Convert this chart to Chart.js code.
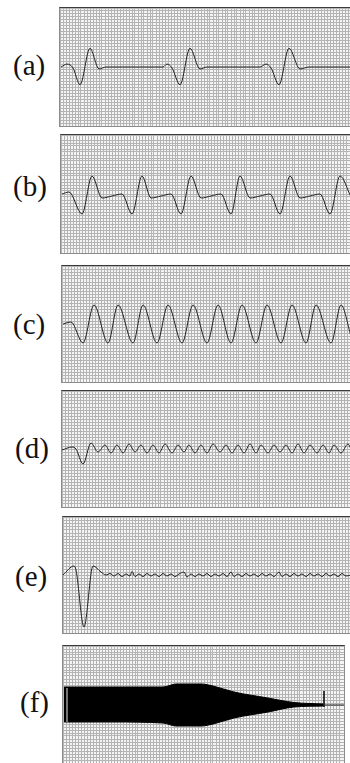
<!DOCTYPE html>
<html>
<head>
<meta charset="utf-8">
<script src="https://cdn.jsdelivr.net/npm/chart.js@4"></script>
<style>
  body { margin: 0; background: #fff; width: 350px; height: 763px; overflow: hidden; position: relative; }
  .panel { position: absolute; border: 1px solid #8c8c8c; border-top-color: #3a3a3a; background: #f4f4f4; }
  .panel canvas { display: block; }
  .label { position: absolute; font-family: "Liberation Serif", "DejaVu Serif", serif; font-size: 29px; line-height: 29px; color: #111; }
</style>
</head>
<body>

<div class="label" style="left:13px; top:51px;">(a)</div>
<div class="label" style="left:13px; top:172px;">(b)</div>
<div class="label" style="left:13px; top:310px;">(c)</div>
<div class="label" style="left:15px; top:434px;">(d)</div>
<div class="label" style="left:15px; top:562px;">(e)</div>
<div class="label" style="left:20px; top:688px;">(f)</div>

<div class="panel" style="left:59px; top:7px;"><canvas id="chartA"></canvas></div>
<div class="panel" style="left:60px; top:134px;"><canvas id="chartB"></canvas></div>
<div class="panel" style="left:61px; top:265px;"><canvas id="chartC"></canvas></div>
<div class="panel" style="left:61px; top:390px;"><canvas id="chartD"></canvas></div>
<div class="panel" style="left:62px; top:516px;"><canvas id="chartE"></canvas></div>
<div class="panel" style="left:62px; top:645px;"><canvas id="chartF"></canvas></div>

<script>
// (a) isolated pulses
const aTime  = [1, 7, 13, 20, 30, 39, 46, 103, 107, 112, 120, 130, 140, 147, 200, 206, 211, 219, 229, 240, 249, 291];
const aValue = [0, 3, -1, -18, 19, -2, 0, 0, 3, -1, -18, 19, -2, 0, 0, 3, -1, -18, 19, -2, 0, 0];

// (b) pulse train
const bTime  = [1, 8, 21, 31, 41, 51, 61, 71, 81, 90, 100, 110, 120, 130, 140, 150, 160, 170, 179, 189, 199, 209, 219, 229, 239, 249, 259, 269, 279, 290];
const bValue = [0, 2, -20, 18, -4, -2, 0, -20, 18, -4, -2, 0, -20, 18, -4, -2, 0, -20, 18, -4, -2, 0, -20, 18, -4, -2, 0, -20, 18, -3];

// (c) steady oscillation
const cTime  = [1, 9, 21, 32, 46, 56, 71, 81, 95, 106, 120, 131, 145, 156, 169, 180, 194, 205, 219, 230, 244, 254, 269, 279, 289];
const cValue = [0, 2, -19, 19, -19, 19, -19, 19, -19, 19, -19, 19, -19, 19, -19, 19, -19, 19, -19, 19, -19, 19, -19, 19, -12];

// (d) small ripple after one dip
const dTime  = [0, 10, 14, 21, 29, 36, 43, 49, 55, 61, 67, 73, 79, 85, 91, 97, 103, 110, 116, 122,
                127, 133, 139, 145, 151, 158, 164, 170, 176, 182, 188, 194, 199, 206, 212, 218, 224, 230,
                236, 242, 248, 255, 261, 267, 272, 279, 286, 289];
const dValue = [-1, 2, 0, -15, 6, -3, 4, -4, 4, -4, 5, -3, 4, -4, 4, -4, 5, -4, 4, -3,
                4, -4, 4, -4, 5, -3, 4, -4, 4, -4, 5, -4, 4, -4, 4, -3, 4, -4,
                5, -4, 4, -4, 4, -4, 4, -4, 5, 0];

// (e) one deep spike, then noise
const eTime  = [0, 11, 13, 21, 30, 38, 43, 47, 51, 55, 59, 63, 67, 69, 72, 76, 80, 84, 88, 92, 96, 100, 104, 108, 112, 116,
                121, 124, 128, 132, 136, 140, 144, 148, 152, 156, 160, 164, 168, 171, 175, 179, 183, 187, 191, 195, 199, 203,
                207, 211, 216, 219, 223, 227, 231, 235, 239, 243, 247, 251, 255, 259, 263, 267, 271, 275, 279, 283, 288];
const eValue = [0, 9, 5, -52, 9, 3, 0, 1.5, -1, 1.5, -1.5, 1, -1, 3.5, -1.5, 1, -1.5, 1.5, -1, 1, -1.5, 1.5, -1, 1, -1.5, 1,
                3, -2, 1, -1.5, 1, -1, 1.5, -1.5, 1, -1, 1.5, -1.5, 3, -1.5, 1, -1.5, 1.5, -1, 1, -1.5, 1.5, -1,
                1, -1.5, 3, -1.5, 1, -1.5, 1.5, -1, 1, -1.5, 1.5, -1, 1, -1.5, 1.5, -1, 1, -1.5, 1.5, -1, 0];

// (f) envelope of a dense oscillation
const fTime  = [1, 50, 100, 113, 138, 150, 171, 205, 231, 261];
const fUpper = [18, 18, 18, 21, 21, 19, 13, 7, 2.5, 1];
const fLower = [-17, -17, -18, -21, -21, -19, -13, -7, -2, -1];
const fTailTime = [261, 281];
const fTailValue = [0, 0];
const fMarkTime = [261, 261];
const fMarkValue = [14, -2];
const fStripeTime = [4, 4];
const fStripeValue = [17, -17];

function points(xs, ys) {
    return xs.map((x, i) => ({ x: x, y: ys[i] }));
}

function traceSet(xs, ys) {
    return {
        data: points(xs, ys),
        borderColor: '#222',
        borderWidth: 1,
        pointRadius: 0,
        cubicInterpolationMode: 'monotone',
        fill: false
    };
}

function makePanel(id, width, height, yMin, yMax, datasets) {
    const canvas = document.getElementById(id);
    canvas.width = width;
    canvas.height = height;
    const gridOpts = { color: '#b4b4b4', lineWidth: 1, drawTicks: false };
    return new Chart(canvas.getContext('2d'), {
        type: 'line',
        data: { datasets: datasets },
        options: {
            responsive: false,
            animation: false,
            events: [],
            layout: { padding: 0 },
            plugins: { legend: { display: false }, tooltip: { enabled: false } },
            scales: {
                x: {
                    type: 'linear', min: 0, max: width,
                    grid: gridOpts, border: { display: false },
                    ticks: { display: false, stepSize: 3 }
                },
                y: {
                    min: yMin, max: yMax,
                    grid: gridOpts, border: { display: false },
                    ticks: { display: false, stepSize: 3 }
                }
            }
        }
    });
}

makePanel('chartA', 291, 118, -60, 60, [traceSet(aTime, aValue)]);
makePanel('chartB', 290, 118, -59, 59, [traceSet(bTime, bValue)]);
makePanel('chartC', 289, 116, -58, 58, [traceSet(cTime, cValue)]);
makePanel('chartD', 289, 116, -58, 58, [traceSet(dTime, dValue)]);
makePanel('chartE', 288, 116, -58, 58, [traceSet(eTime, eValue)]);

makePanel('chartF', 281, 117, -58, 59, [
    Object.assign(traceSet(fTime, fUpper), { borderColor: '#000', fill: '+1', backgroundColor: '#000', order: 2 }),
    Object.assign(traceSet(fTime, fLower), { borderColor: '#000', order: 2 }),
    Object.assign(traceSet(fTailTime, fTailValue), { order: 1 }),
    Object.assign(traceSet(fMarkTime, fMarkValue), { cubicInterpolationMode: 'default', order: 0 }),
    Object.assign(traceSet(fStripeTime, fStripeValue), { borderColor: '#9a9a9a', borderWidth: 1.5, cubicInterpolationMode: 'default', order: -1 })
]);
</script>
</body>
</html>
